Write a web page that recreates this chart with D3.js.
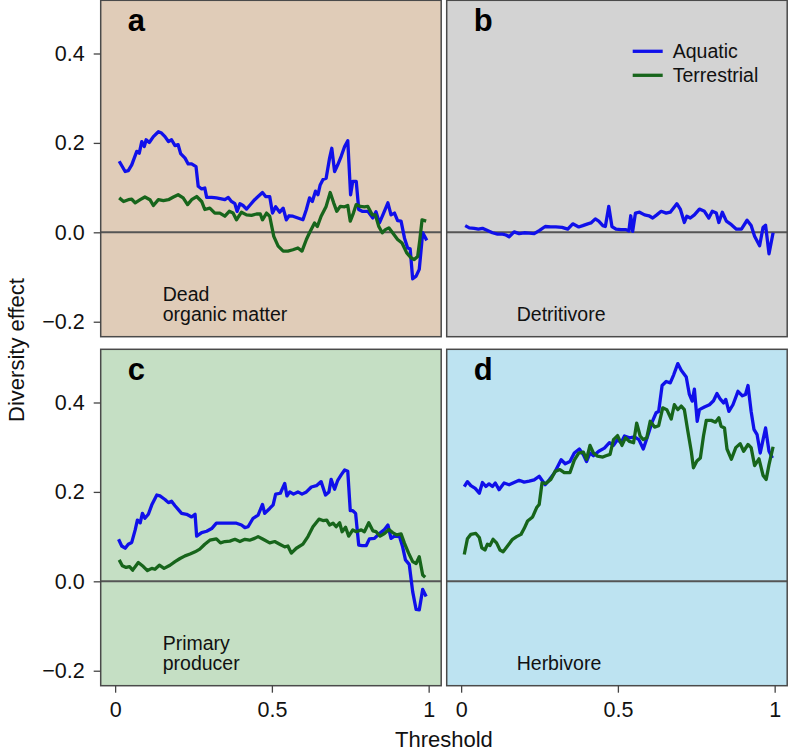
<!DOCTYPE html>
<html><head><meta charset="utf-8">
<script src="https://cdn.jsdelivr.net/npm/d3@7"></script>
<style>body{margin:0;background:#fff}svg{display:block}text{font-family:"Liberation Sans",Arial,Helvetica,sans-serif}</style>
</head><body><div id="chart"></div>
<script>
// ---- data: [threshold, diversity effect] ----
const panelLetters = ["a","b","c","d"];
const panelNames = [["Dead","organic matter"],["Detritivore"],["Primary","producer"],["Herbivore"]];
const panelColors = ["#E0CCB8","#D3D3D3","#C5DFC4","#BDE3F1"];
const seriesNames = ["Aquatic","Terrestrial"];
const seriesColors = ["#1010EA","#17651B"];
const yTicks = [-0.2, 0, 0.2, 0.4];
const xTicks = [0, 0.5, 1];

const aquaticDOM = [[0.013,0.159],[0.032,0.136],[0.042,0.138],[0.053,0.151],[0.069,0.181],[0.077,0.177],[0.085,0.203],[0.093,0.192],[0.099,0.207],[0.109,0.201],[0.122,0.214],[0.138,0.225],[0.148,0.222],[0.159,0.214],[0.170,0.203],[0.180,0.207],[0.191,0.194],[0.201,0.196],[0.209,0.176],[0.223,0.166],[0.233,0.153],[0.244,0.153],[0.258,0.147],[0.265,0.103],[0.276,0.097],[0.286,0.099],[0.292,0.078],[0.308,0.078],[0.323,0.077],[0.339,0.075],[0.350,0.073],[0.361,0.078],[0.371,0.069],[0.382,0.064],[0.389,0.047],[0.398,0.064],[0.408,0.060],[0.419,0.052],[0.429,0.060],[0.445,0.073],[0.456,0.080],[0.470,0.089],[0.480,0.080],[0.493,0.080],[0.502,0.043],[0.512,0.057],[0.525,0.045],[0.536,0.054],[0.546,0.028],[0.555,0.037],[0.567,0.036],[0.583,0.032],[0.599,0.028],[0.610,0.051],[0.620,0.077],[0.629,0.069],[0.639,0.092],[0.647,0.084],[0.654,0.106],[0.663,0.118],[0.673,0.121],[0.684,0.166],[0.691,0.188],[0.700,0.136],[0.710,0.151],[0.721,0.170],[0.732,0.192],[0.742,0.205],[0.751,0.084],[0.758,0.114],[0.769,0.114],[0.777,0.051],[0.788,0.047],[0.806,0.047],[0.822,0.032],[0.832,0.046],[0.843,0.021],[0.854,0.039],[0.870,0.066],[0.880,0.039],[0.891,0.043],[0.901,0.026],[0.912,0.025],[0.923,-0.013],[0.933,-0.035],[0.941,-0.037],[0.949,-0.104],[0.960,-0.098],[0.970,-0.083],[0.981,-0.001],[0.994,-0.018]];
const terrestrialDOM = [[0.013,0.077],[0.027,0.069],[0.042,0.073],[0.053,0.074],[0.064,0.066],[0.080,0.073],[0.095,0.079],[0.111,0.073],[0.122,0.060],[0.138,0.073],[0.154,0.071],[0.170,0.073],[0.186,0.079],[0.201,0.084],[0.217,0.077],[0.231,0.062],[0.244,0.073],[0.260,0.080],[0.276,0.069],[0.286,0.051],[0.302,0.054],[0.318,0.043],[0.334,0.043],[0.350,0.036],[0.364,0.047],[0.376,0.043],[0.387,0.028],[0.403,0.045],[0.419,0.039],[0.435,0.038],[0.451,0.041],[0.463,0.041],[0.470,0.028],[0.483,0.043],[0.493,0.036],[0.506,-0.009],[0.520,-0.031],[0.536,-0.042],[0.551,-0.042],[0.567,-0.039],[0.583,-0.035],[0.596,-0.042],[0.610,-0.016],[0.620,-0.001],[0.636,0.021],[0.645,0.013],[0.657,0.036],[0.673,0.058],[0.686,0.089],[0.697,0.066],[0.707,0.047],[0.718,0.058],[0.732,0.057],[0.742,0.060],[0.750,0.025],[0.760,0.043],[0.769,0.062],[0.782,0.058],[0.795,0.057],[0.806,0.058],[0.820,0.039],[0.830,0.039],[0.841,0.013],[0.852,-0.001],[0.862,0.006],[0.873,0.010],[0.885,-0.001],[0.901,-0.016],[0.915,-0.024],[0.930,-0.046],[0.944,-0.057],[0.954,-0.061],[0.965,-0.054],[0.972,-0.016],[0.979,0.028],[0.992,0.025]];
const aquaticDetritivore = [[0.013,0.015],[0.026,0.010],[0.042,0.009],[0.055,0.007],[0.068,0.009],[0.084,0.004],[0.100,-0.001],[0.116,-0.004],[0.132,-0.004],[0.143,-0.006],[0.153,-0.010],[0.169,0.001],[0.185,-0.003],[0.201,-0.001],[0.217,-0.002],[0.233,-0.003],[0.249,0.004],[0.268,0.013],[0.286,0.012],[0.302,0.012],[0.322,0.011],[0.340,0.007],[0.356,0.019],[0.375,0.012],[0.388,0.015],[0.404,0.019],[0.414,0.021],[0.428,0.030],[0.439,0.025],[0.452,0.015],[0.460,0.013],[0.471,0.058],[0.481,0.013],[0.494,0.007],[0.510,0.006],[0.526,0.006],[0.535,0.003],[0.541,0.037],[0.547,0.002],[0.556,0.043],[0.569,0.045],[0.585,0.039],[0.599,0.037],[0.611,0.032],[0.624,0.039],[0.638,0.047],[0.654,0.043],[0.667,0.045],[0.677,0.054],[0.688,0.064],[0.699,0.052],[0.712,0.022],[0.720,0.036],[0.731,0.032],[0.744,0.039],[0.760,0.052],[0.776,0.047],[0.790,0.032],[0.801,0.047],[0.814,0.043],[0.822,0.022],[0.833,0.045],[0.846,0.025],[0.862,0.017],[0.878,0.007],[0.894,0.007],[0.912,0.027],[0.925,0.015],[0.936,-0.009],[0.952,-0.030],[0.963,0.011],[0.971,0.016],[0.982,-0.048],[0.995,-0.001]];
const aquaticProducer = [[0.011,0.094],[0.021,0.079],[0.032,0.074],[0.042,0.083],[0.053,0.087],[0.064,0.115],[0.071,0.137],[0.080,0.131],[0.087,0.152],[0.095,0.141],[0.106,0.150],[0.117,0.171],[0.133,0.193],[0.143,0.191],[0.159,0.183],[0.170,0.176],[0.180,0.179],[0.191,0.169],[0.201,0.161],[0.212,0.152],[0.228,0.150],[0.244,0.144],[0.255,0.150],[0.260,0.101],[0.276,0.109],[0.292,0.112],[0.308,0.118],[0.323,0.130],[0.345,0.130],[0.366,0.130],[0.387,0.130],[0.403,0.126],[0.414,0.120],[0.424,0.122],[0.440,0.141],[0.456,0.148],[0.470,0.172],[0.477,0.152],[0.493,0.163],[0.504,0.171],[0.512,0.195],[0.527,0.197],[0.541,0.219],[0.548,0.191],[0.557,0.200],[0.569,0.195],[0.583,0.200],[0.596,0.195],[0.610,0.200],[0.626,0.211],[0.642,0.214],[0.657,0.223],[0.671,0.193],[0.682,0.200],[0.689,0.228],[0.700,0.206],[0.710,0.226],[0.721,0.238],[0.732,0.249],[0.742,0.246],[0.750,0.158],[0.758,0.158],[0.767,0.152],[0.777,0.081],[0.788,0.080],[0.801,0.080],[0.811,0.095],[0.827,0.096],[0.843,0.107],[0.859,0.116],[0.870,0.126],[0.880,0.096],[0.891,0.101],[0.907,0.100],[0.917,0.077],[0.926,0.048],[0.938,0.038],[0.949,-0.023],[0.960,-0.063],[0.970,-0.064],[0.981,-0.018],[0.992,-0.034]];
const terrestrialProducer = [[0.013,0.048],[0.023,0.035],[0.035,0.031],[0.046,0.033],[0.056,0.025],[0.074,0.042],[0.090,0.033],[0.103,0.024],[0.117,0.029],[0.127,0.027],[0.141,0.036],[0.156,0.029],[0.175,0.036],[0.191,0.044],[0.207,0.051],[0.223,0.057],[0.239,0.061],[0.255,0.066],[0.270,0.072],[0.286,0.083],[0.302,0.092],[0.323,0.095],[0.336,0.086],[0.350,0.089],[0.366,0.090],[0.382,0.094],[0.398,0.089],[0.414,0.094],[0.429,0.092],[0.445,0.096],[0.456,0.100],[0.472,0.094],[0.493,0.086],[0.509,0.089],[0.525,0.083],[0.541,0.077],[0.551,0.079],[0.562,0.063],[0.578,0.074],[0.599,0.083],[0.615,0.100],[0.631,0.122],[0.650,0.139],[0.663,0.136],[0.675,0.137],[0.684,0.126],[0.695,0.130],[0.705,0.122],[0.716,0.131],[0.724,0.111],[0.735,0.121],[0.745,0.101],[0.758,0.115],[0.769,0.111],[0.785,0.115],[0.795,0.111],[0.809,0.131],[0.822,0.113],[0.832,0.111],[0.845,0.101],[0.859,0.107],[0.873,0.116],[0.885,0.109],[0.898,0.104],[0.912,0.106],[0.923,0.085],[0.936,0.063],[0.949,0.044],[0.960,0.040],[0.970,0.055],[0.981,0.014],[0.989,0.009]];
const aquaticHerbivore = [[0.010,0.212],[0.020,0.223],[0.031,0.214],[0.045,0.208],[0.058,0.197],[0.068,0.221],[0.079,0.212],[0.089,0.218],[0.100,0.212],[0.109,0.220],[0.121,0.205],[0.137,0.220],[0.153,0.216],[0.169,0.221],[0.185,0.226],[0.201,0.222],[0.217,0.224],[0.233,0.227],[0.249,0.235],[0.268,0.216],[0.281,0.227],[0.297,0.242],[0.319,0.272],[0.332,0.263],[0.347,0.268],[0.361,0.287],[0.377,0.296],[0.390,0.283],[0.400,0.268],[0.411,0.287],[0.422,0.281],[0.439,0.291],[0.457,0.298],[0.473,0.310],[0.486,0.304],[0.499,0.317],[0.510,0.310],[0.521,0.325],[0.537,0.321],[0.553,0.323],[0.567,0.317],[0.581,0.296],[0.595,0.325],[0.609,0.356],[0.622,0.377],[0.630,0.380],[0.641,0.438],[0.654,0.447],[0.667,0.444],[0.678,0.462],[0.691,0.487],[0.702,0.472],[0.718,0.457],[0.728,0.418],[0.737,0.403],[0.744,0.430],[0.753,0.358],[0.760,0.384],[0.776,0.390],[0.792,0.395],[0.805,0.404],[0.816,0.420],[0.826,0.408],[0.837,0.399],[0.844,0.407],[0.854,0.380],[0.867,0.395],[0.883,0.425],[0.897,0.415],[0.907,0.418],[0.915,0.438],[0.925,0.380],[0.934,0.340],[0.944,0.328],[0.954,0.287],[0.963,0.317],[0.971,0.343],[0.982,0.291],[0.993,0.276]];
const terrestrialHerbivore = [[0.010,0.060],[0.020,0.095],[0.031,0.105],[0.047,0.107],[0.058,0.098],[0.066,0.075],[0.076,0.070],[0.084,0.083],[0.092,0.080],[0.102,0.094],[0.113,0.086],[0.124,0.070],[0.134,0.066],[0.148,0.079],[0.164,0.094],[0.177,0.100],[0.191,0.105],[0.201,0.118],[0.212,0.135],[0.228,0.144],[0.241,0.165],[0.249,0.172],[0.258,0.220],[0.270,0.219],[0.286,0.228],[0.300,0.246],[0.315,0.250],[0.329,0.243],[0.347,0.243],[0.361,0.271],[0.375,0.287],[0.390,0.289],[0.400,0.273],[0.411,0.304],[0.422,0.287],[0.435,0.280],[0.452,0.278],[0.462,0.281],[0.475,0.284],[0.486,0.317],[0.499,0.326],[0.513,0.304],[0.524,0.321],[0.537,0.313],[0.550,0.310],[0.560,0.354],[0.571,0.325],[0.581,0.317],[0.592,0.321],[0.603,0.358],[0.617,0.345],[0.630,0.348],[0.643,0.388],[0.656,0.384],[0.670,0.363],[0.680,0.395],[0.691,0.384],[0.702,0.392],[0.712,0.384],[0.723,0.336],[0.734,0.291],[0.741,0.254],[0.752,0.269],[0.763,0.276],[0.773,0.325],[0.782,0.360],[0.798,0.360],[0.811,0.356],[0.822,0.366],[0.829,0.347],[0.840,0.343],[0.848,0.296],[0.862,0.273],[0.876,0.299],[0.890,0.308],[0.901,0.291],[0.915,0.306],[0.925,0.299],[0.936,0.259],[0.950,0.274],[0.963,0.237],[0.973,0.228],[0.982,0.261],[0.995,0.301]];

const panelSeries = [
  [aquaticDOM, terrestrialDOM],
  [aquaticDetritivore, null],
  [aquaticProducer, terrestrialProducer],
  [aquaticHerbivore, terrestrialHerbivore]
];

// ---- layout ----
const W = 788, H = 753;
const colX = [100.7, 446.7], colW = 340.5;
const rowY = [0.3, 349.3], rowH = 336.4;
const font = '"Liberation Sans",Arial,Helvetica,sans-serif';

const svg = d3.select("#chart").append("svg").attr("width", W).attr("height", H);
svg.append("rect").attr("width", W).attr("height", H).attr("fill", "#fff");

const x = d3.scaleLinear().domain([-0.046, 1.04]).range([0, colW]);
const y = d3.scaleLinear().domain([-0.2335, 0.519]).range([rowH, 0]);
const line = d3.line().x(d => x(d[0])).y(d => y(d[1]));

panelLetters.forEach((L, i) => {
  const c = i % 2, r = Math.floor(i / 2);
  const g = svg.append("g").attr("transform", `translate(${colX[c]},${rowY[r]})`);
  g.append("rect").attr("width", colW).attr("height", rowH).attr("fill", panelColors[i]);
  g.append("line").attr("x1", 0).attr("x2", colW).attr("y1", y(0)).attr("y2", y(0))
    .attr("stroke", "#555").attr("stroke-width", 2);
  panelSeries[i].forEach((s, k) => {
    if (!s) return;
    g.append("path").datum(s).attr("d", line).attr("fill", "none")
      .attr("stroke", seriesColors[k]).attr("stroke-width", 3.3).attr("stroke-linejoin", "round");
  });
  g.append("rect").attr("width", colW).attr("height", rowH).attr("fill", "none")
    .attr("stroke", "#4a4a4a").attr("stroke-width", 1.5);
  g.append("text").attr("x", 27).attr("y", 31).text(L)
    .attr("font-size", 31).attr("font-weight", "bold").attr("fill", "#000");
  const t = g.append("text").attr("x", c === 0 ? 62 : 70).attr("font-size", 19.5).attr("fill", "#111");
  const names = panelNames[i];
  names.forEach((nm, j) => {
    t.append("tspan").attr("x", c === 0 ? 62 : 70).attr("y", 321 - (names.length - 1 - j) * 20).text(nm);
  });

  if (c === 0) {
    const ya = g.append("g").call(d3.axisLeft(y).tickValues(yTicks).tickSize(7).tickSizeOuter(0).tickPadding(9).tickFormat(d3.format(".1f")));
    ya.select(".domain").remove();
    ya.selectAll("line").attr("stroke", "#444").attr("stroke-width", 1.3);
    ya.selectAll("text").attr("font-size", 21.5).attr("font-family", font).attr("fill", "#111");
  }
  if (r === 1) {
    const xa = g.append("g").attr("transform", `translate(0,${rowH})`)
      .call(d3.axisBottom(x).tickValues(xTicks).tickSize(7).tickSizeOuter(0).tickPadding(9).tickFormat(d => d3.format("")(d)));
    xa.select(".domain").remove();
    xa.selectAll("line").attr("stroke", "#444").attr("stroke-width", 1.3);
    xa.selectAll("text").attr("font-size", 21.5).attr("font-family", font).attr("fill", "#111");
  }
  if (i === 1) {
    const lg = g.append("g");
    seriesNames.forEach((nm, k) => {
      const yy = 51 + k * 24;
      lg.append("line").attr("x1", 186).attr("x2", 216).attr("y1", yy).attr("y2", yy)
        .attr("stroke", seriesColors[k]).attr("stroke-width", 3.3);
      lg.append("text").attr("x", 226).attr("y", yy).attr("dy", "0.35em").text(nm)
        .attr("font-size", 19.5).attr("fill", "#111");
    });
  }
});

svg.append("text").attr("x", colX[0] + (colX[1] + colW - colX[0]) / 2).attr("y", 747)
  .attr("text-anchor", "middle").attr("font-size", 22).attr("fill", "#111").text("Threshold");
svg.append("text").attr("transform", "translate(24,350) rotate(-90)")
  .attr("text-anchor", "middle").attr("font-size", 22).attr("fill", "#111").text("Diversity effect");
</script></body></html>
